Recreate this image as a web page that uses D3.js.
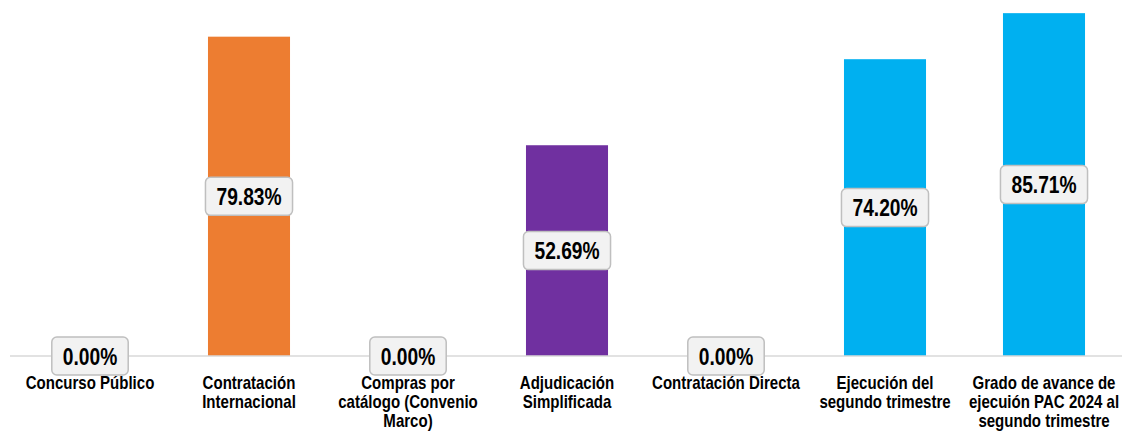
<!DOCTYPE html>
<html>
<head>
<meta charset="utf-8">
<script src="https://cdn.jsdelivr.net/npm/d3@7"></script>
<style>
  body { margin: 0; background: #fff; }
  svg { display: block; }
  .cat { font-family: "Liberation Sans", Arial, sans-serif; font-weight: bold; font-size: 17.5px; fill: #000; }
  .val { font-family: "Liberation Sans", Arial, sans-serif; font-weight: bold; font-size: 24px; fill: #000; }
</style>
</head>
<body>
<svg width="1126" height="433"></svg>
<script>
// categories (line breaks as in the picture)
var categories = [
  ["Concurso Público"],
  ["Contratación", "Internacional"],
  ["Compras por", "catálogo (Convenio", "Marco)"],
  ["Adjudicación", "Simplificada"],
  ["Contratación Directa"],
  ["Ejecución del", "segundo trimestre"],
  ["Grado de avance de", "ejecuión PAC 2024 al", "segundo trimestre"]
];
var values = [0.00, 79.83, 0.00, 52.69, 0.00, 74.20, 85.71];
var colors = ["#ED7D31", "#ED7D31", "#7030A0", "#7030A0", "#00B0F0", "#00B0F0", "#00B0F0"];

var svg = d3.select("svg");
var baseY = 356;

var x = d3.scaleBand()
  .domain(d3.range(values.length))
  .range([10.5, 1123.5])
  .paddingInner(0.484)
  .paddingOuter(0.242);

var y = d3.scaleLinear()
  .domain([0, 89])
  .range([baseY, 0]);

// no narrow font installed, so squeeze the text horizontally
var catSqueeze = 0.86, valSqueeze = 0.8;

// bars
svg.append("g").selectAll("rect")
  .data(values)
  .enter()
  .append("rect")
  .attr("x", function(d, i) { return x(i); })
  .attr("width", x.bandwidth())
  .attr("y", function(d) { return y(d); })
  .attr("height", function(d) { return y(0) - y(d); })
  .attr("fill", function(d, i) { return colors[i]; });

// baseline
svg.append("line")
  .attr("x1", 10).attr("x2", 1122)
  .attr("y1", baseY).attr("y2", baseY)
  .attr("stroke", "#d9d9d9")
  .attr("stroke-width", 1.5);

// category labels
var cats = svg.append("g").selectAll("g")
  .data(categories)
  .enter()
  .append("g")
  .attr("transform", function(d, i) {
    return "translate(" + (x(i) + x.bandwidth() / 2) + ",0) scale(" + catSqueeze + ",1)";
  })
  .append("text")
  .attr("class", "cat")
  .attr("text-anchor", "middle");

cats.selectAll("tspan")
  .data(function(d) { return d; })
  .enter()
  .append("tspan")
  .attr("x", 0)
  .attr("y", function(d, j) { return 389 + j * 19; })
  .text(function(d) { return d; });

// value labels in boxes, centred in the bar
var fmt = function(v) { return v.toFixed(2) + "%"; };
var labels = svg.append("g").selectAll("g")
  .data(values)
  .enter()
  .append("g")
  .attr("transform", function(d, i) {
    return "translate(" + (x(i) + x.bandwidth() / 2) + "," + ((y(0) + y(d)) / 2) + ")";
  });

labels.append("rect").attr("class", "box");
labels.append("g")
  .attr("transform", "scale(" + valSqueeze + ",1)")
  .append("text")
  .attr("class", "val")
  .attr("text-anchor", "middle")
  .attr("dy", "0.36em")
  .text(fmt);

labels.each(function() {
  var g = d3.select(this);
  var w = g.select("text").node().getComputedTextLength() * valSqueeze + 22;
  var h = 38;
  g.select("rect")
    .attr("x", -w / 2).attr("y", -h / 2)
    .attr("width", w).attr("height", h)
    .attr("rx", 5)
    .attr("fill", "#f2f2f2")
    .attr("stroke", "#bfbfbf")
    .attr("stroke-width", 1.5);
});
</script>
</body>
</html>
